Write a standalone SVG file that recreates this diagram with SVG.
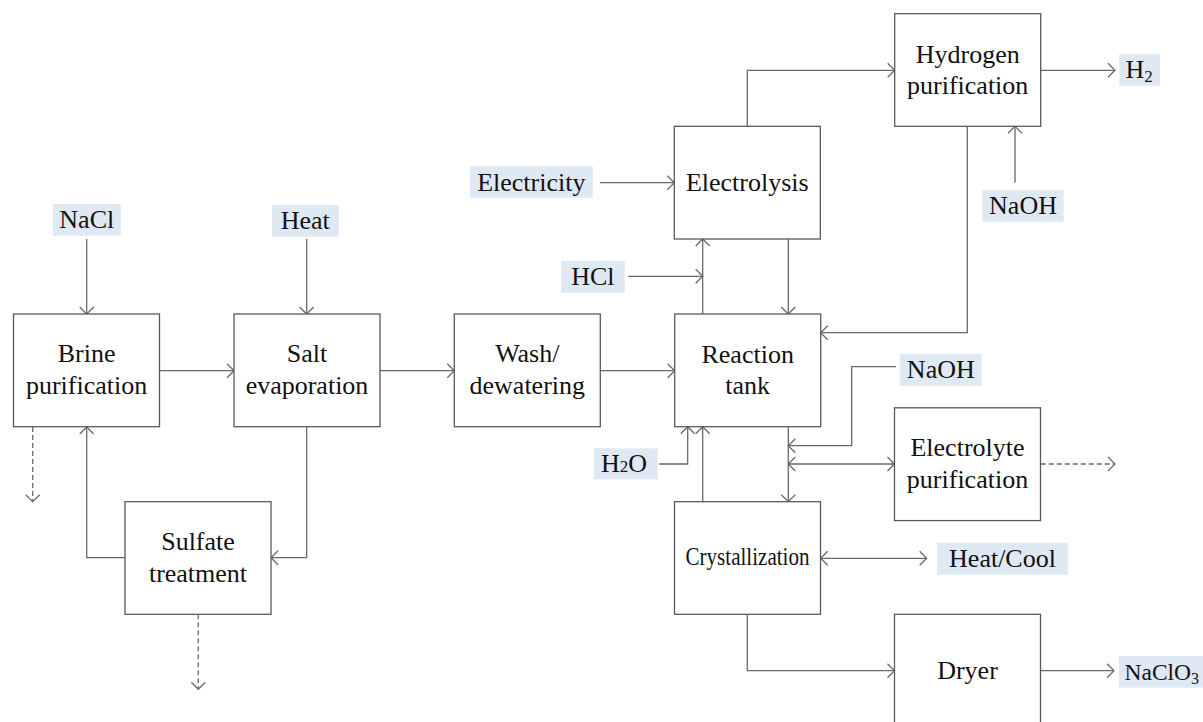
<svg xmlns="http://www.w3.org/2000/svg" width="1203" height="722" viewBox="0 0 1203 722">
<style>
.box{fill:#fff;stroke:#5a5a5a;stroke-width:1.3}
.lbl{fill:#dfe9f3;stroke:none}
text{font-family:"Liberation Serif","Times New Roman",serif;font-size:26px;fill:#111}
.c{text-anchor:middle}
.sub{font-size:17px}
.ln{fill:none;stroke:#6a6a6a;stroke-width:1.3;marker-end:url(#a)}
.bi{marker-start:url(#a)}
.ds{stroke-dasharray:5 3}
</style>
<defs>
<marker id="a" viewBox="-9 -9 11 18" refX="0" refY="0" markerWidth="11" markerHeight="18" markerUnits="userSpaceOnUse" orient="auto-start-reverse">
<path d="M-7,-7 L0,0 L-7,7" fill="none" stroke="#6a6a6a" stroke-width="1.3"/>
</marker>
</defs>
<rect width="1203" height="722" fill="#fff"/>

<g id="connectors">
<path class="ln" d="M86.7,239 V314"/>
<path class="ln" d="M306.7,239 V314"/>
<path class="ln" d="M159.5,370.7 H234"/>
<path class="ln" d="M380,370.7 H454.3"/>
<path class="ln" d="M600.3,370.7 H674.7"/>
<path class="ln ds" d="M32.7,427 V501.7"/>
<path class="ln" d="M125,557.7 H86.7 V427"/>
<path class="ln" d="M306.7,427 V557.7 H271"/>
<path class="ln ds" d="M198.3,614.3 V689.3"/>
<path class="ln" d="M600,182.7 H674.3"/>
<path class="ln" d="M628.3,276.3 H702.7"/>
<path class="ln" d="M702.7,314 V239"/>
<path class="ln" d="M788.3,239 V314"/>
<path class="ln" d="M747.3,126.3 V70.3 H894.7"/>
<path class="ln" d="M1040.7,70.3 H1115"/>
<path class="ln" d="M1015,182.7 V126.3"/>
<path class="ln" d="M967.3,126.3 V332.7 H820.7"/>
<path class="ln" d="M896,366.7 H851.7 V445.7 H788.3"/>
<path class="ln" d="M788.3,426.7 V501.7"/>
<path class="ln bi" d="M788.3,464 H894.5"/>
<path class="ln ds" d="M1040.7,464 H1115"/>
<path class="ln" d="M659.3,464 H687.7 V426.7"/>
<path class="ln" d="M702.7,501.7 V426.7"/>
<path class="ln bi" d="M820.7,558.3 H926.7"/>
<path class="ln" d="M747.3,614.3 V670.7 H894.5"/>
<path class="ln" d="M1040.7,670.7 H1114"/>
</g>

<g id="brine"><rect class="box" x="13.5" y="314" width="146" height="112.7"/>
<text class="c" x="86.6" y="362">Brine</text><text class="c" x="86.6" y="393.5">purification</text></g>
<g id="salt"><rect class="box" x="234" y="314" width="146" height="112.7"/>
<text class="c" x="307" y="362">Salt</text><text class="c" x="307" y="393.5">evaporation</text></g>
<g id="wash"><rect class="box" x="454.3" y="314" width="146" height="112.7"/>
<text class="c" x="527.3" y="362">Wash/</text><text class="c" x="527.3" y="393.5">dewatering</text></g>
<g id="reaction"><rect class="box" x="674.7" y="314" width="146" height="112.7"/>
<text class="c" x="747.7" y="362.5">Reaction</text><text class="c" x="747.7" y="393.5">tank</text></g>
<g id="electrolysis"><rect class="box" x="674.3" y="126.3" width="146" height="112.7"/>
<text class="c" x="747.3" y="191">Electrolysis</text></g>
<g id="hydrogen"><rect class="box" x="894.7" y="13.7" width="146" height="112.6"/>
<text class="c" x="967.7" y="63">Hydrogen</text><text class="c" x="967.7" y="93.5">purification</text></g>
<g id="electrolyte"><rect class="box" x="894.5" y="407.8" width="146" height="112.8"/>
<text class="c" x="967.5" y="456">Electrolyte</text><text class="c" x="967.5" y="487.5">purification</text></g>
<g id="crystallization"><rect class="box" x="674.5" y="501.7" width="146" height="112.6"/>
<text class="c" x="747.5" y="564.5" textLength="124" lengthAdjust="spacingAndGlyphs">Crystallization</text></g>
<g id="dryer"><rect class="box" x="894.5" y="614.3" width="146" height="112.6"/>
<text class="c" x="967.5" y="678.5">Dryer</text></g>
<g id="sulfate"><rect class="box" x="125" y="501.7" width="146" height="112.6"/>
<text class="c" x="198" y="550">Sulfate</text><text class="c" x="198" y="582">treatment</text></g>

<g id="lbl-nacl"><rect class="lbl" x="53" y="204" width="67.7" height="31.7"/><text class="c" x="86.8" y="228">NaCl</text></g>
<g id="lbl-heat"><rect class="lbl" x="272" y="205" width="66.7" height="31.7"/><text class="c" x="305.3" y="229">Heat</text></g>
<g id="lbl-electricity"><rect class="lbl" x="470" y="166" width="122.7" height="31.7"/><text class="c" x="531.3" y="190.5">Electricity</text></g>
<g id="lbl-hcl"><rect class="lbl" x="561" y="261" width="63.7" height="31.7"/><text class="c" x="592.8" y="285">HCl</text></g>
<g id="lbl-h2o"><rect class="lbl" x="594" y="448.3" width="63.7" height="31"/><text x="601" y="472">H<tspan class="sub">2</tspan>O</text></g>
<g id="lbl-naoh-mid"><rect class="lbl" x="900" y="354" width="81.7" height="31.7"/><text class="c" x="940.8" y="378">NaOH</text></g>
<g id="lbl-naoh-top"><rect class="lbl" x="982.3" y="190" width="81.4" height="31.7"/><text class="c" x="1023" y="214">NaOH</text></g>
<g id="lbl-h2"><rect class="lbl" x="1119.3" y="54" width="40.7" height="31.7"/><text x="1125.5" y="77.5">H<tspan class="sub" dy="4.5">2</tspan></text></g>
<g id="lbl-heatcool"><rect class="lbl" x="937" y="542.7" width="131" height="32"/><text class="c" x="1002.5" y="567">Heat/Cool</text></g>
<g id="lbl-naclo3"><rect class="lbl" x="1119" y="656" width="84" height="31.7"/><text x="1124.5" y="679.5" style="font-size:23.5px">NaClO<tspan style="font-size:16px" dy="4.5">3</tspan></text></g>
</svg>
